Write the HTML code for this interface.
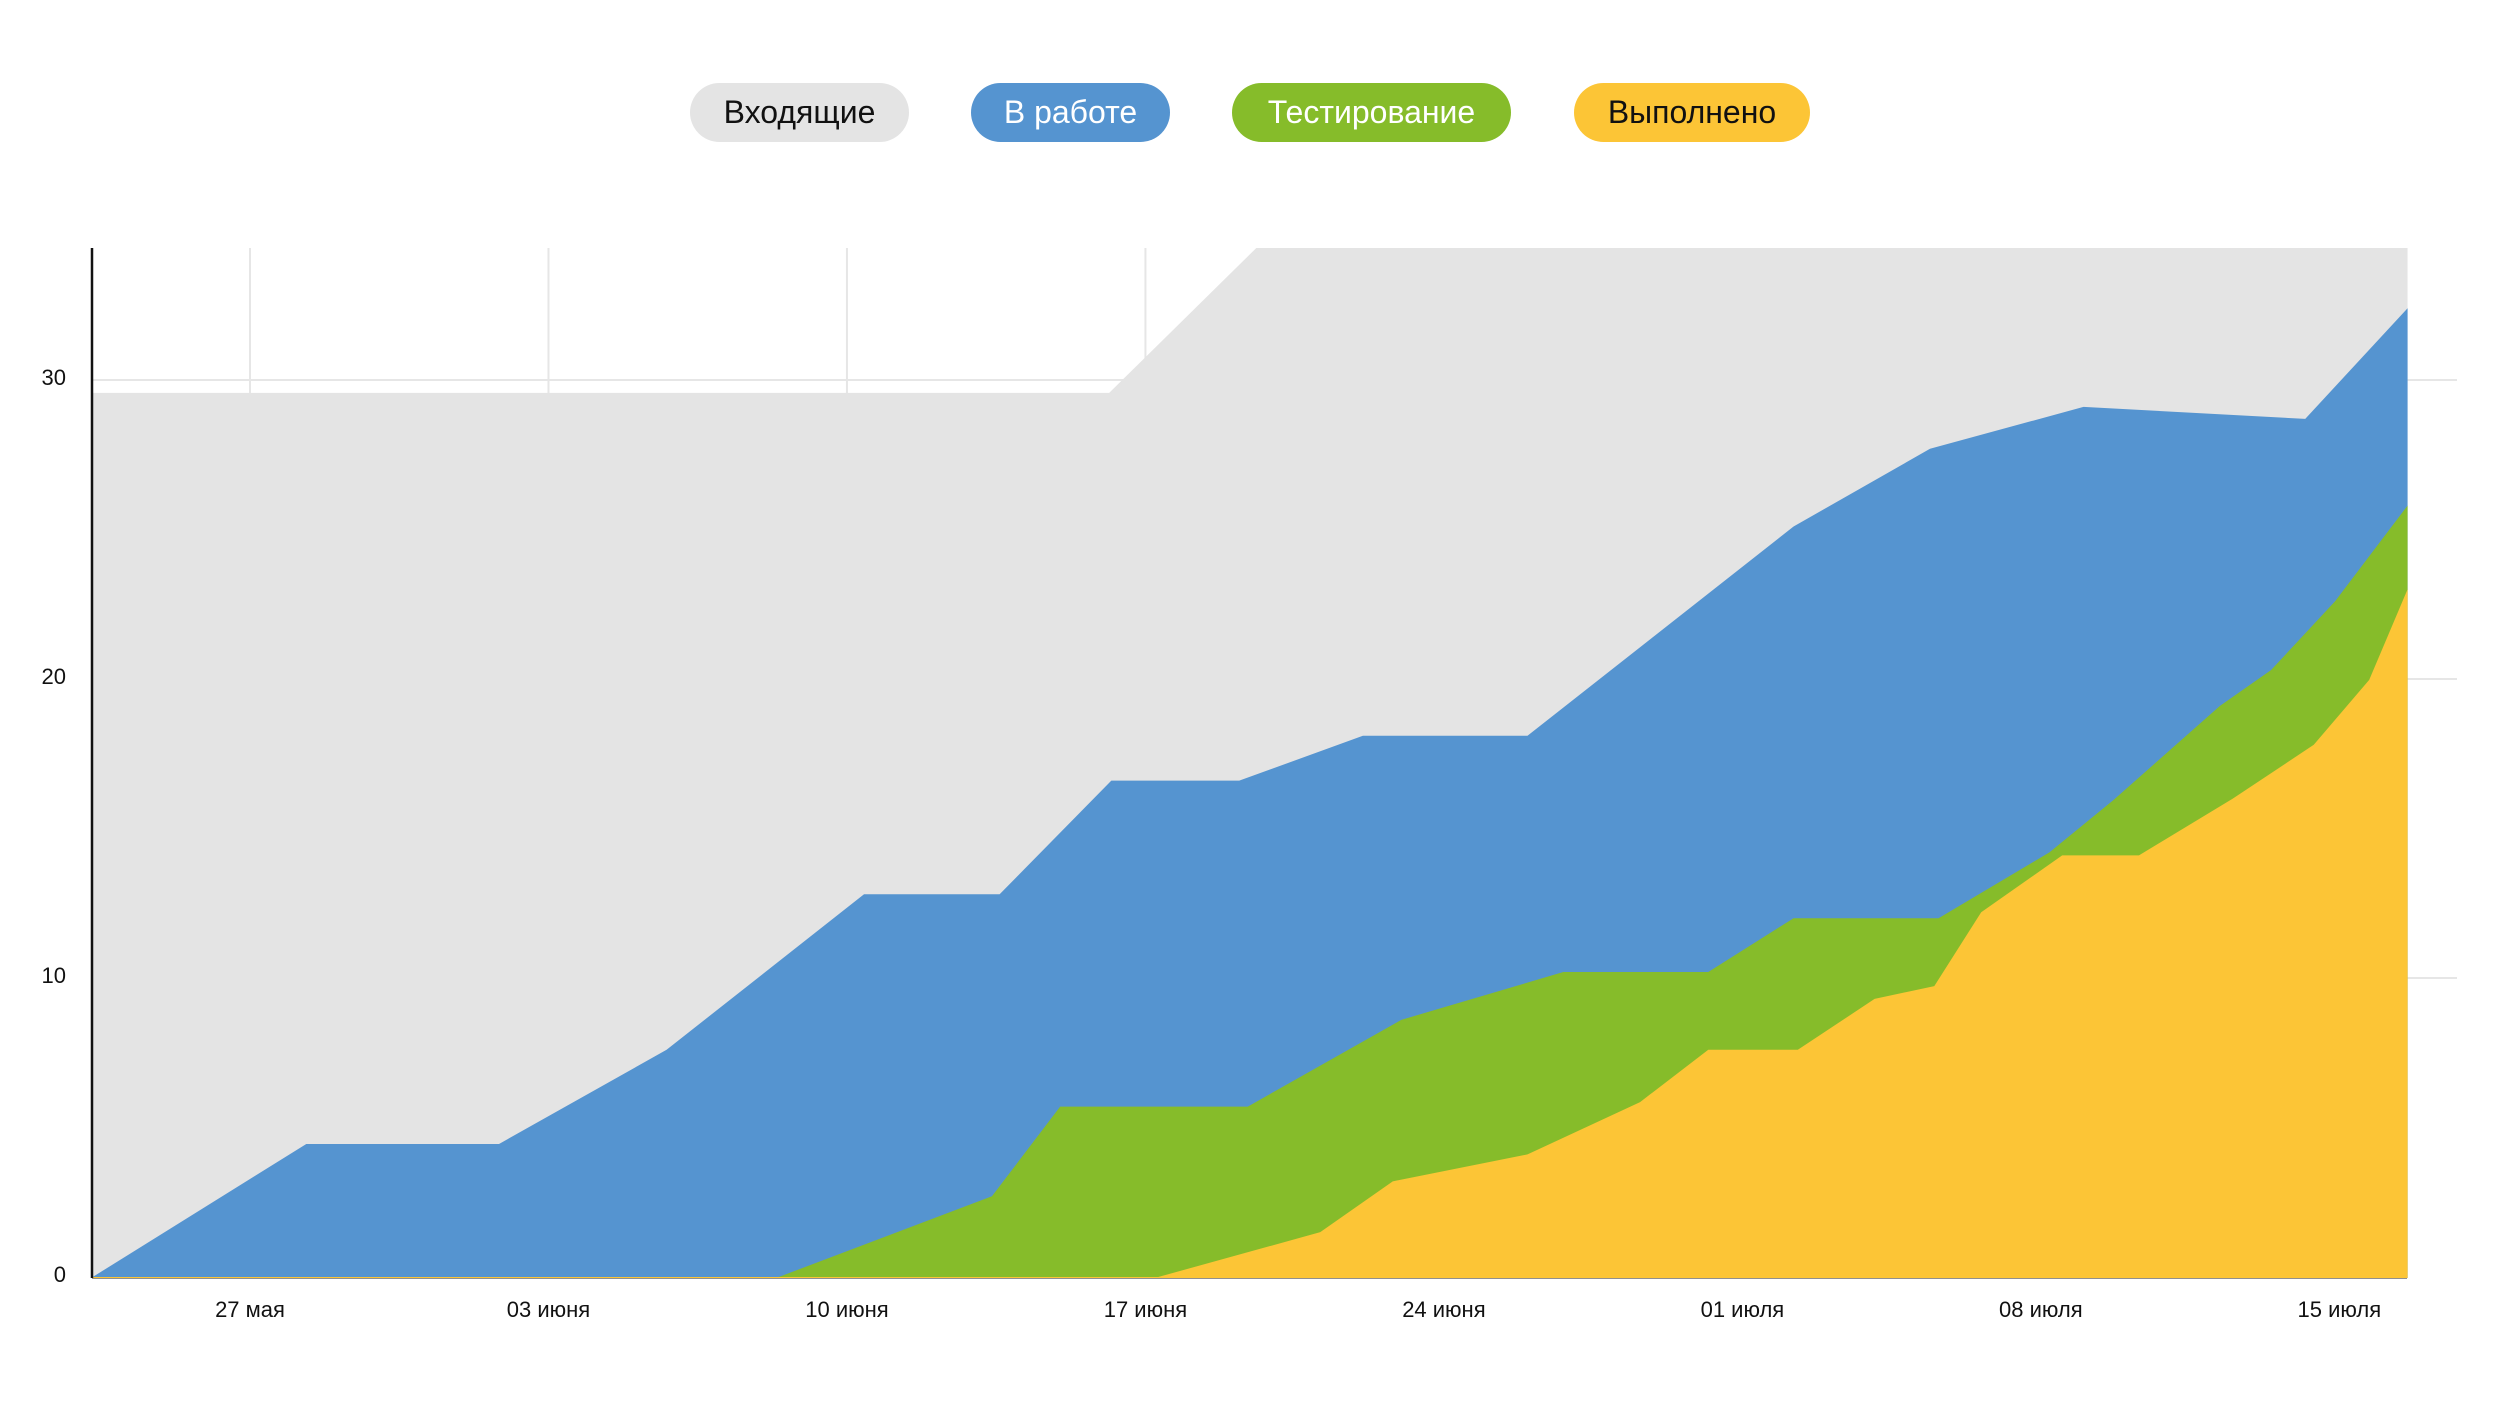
<!DOCTYPE html>
<html><head><meta charset="utf-8"><style>
html,body{margin:0;padding:0;background:#fff;width:2500px;height:1406px;overflow:hidden;font-family:"Liberation Sans","DejaVu Sans",sans-serif}
.pill{position:absolute;top:83px;height:59px;border-radius:30px;font-size:32px;line-height:59px;text-align:center;z-index:2}
#chart{position:absolute;left:0;top:0;z-index:0}
</style></head><body>
<svg id="chart" xmlns="http://www.w3.org/2000/svg" width="2500" height="1406"></svg>
<div class="pill" style="left:690px;width:219px;background:#e4e4e4;color:#111">Входящие</div>
<div class="pill" style="left:971px;width:199px;background:#5594d0;color:#fff">В работе</div>
<div class="pill" style="left:1232px;width:279px;background:#86bc2a;color:#fff">Тестирование</div>
<div class="pill" style="left:1574px;width:236px;background:#fcc536;color:#111">Выполнено</div>
<script>
const xTicks=[0,7,14,21,28,35,42,49];
const xTickLabels=["27 мая","03 июня","10 июня","17 июня","24 июня","01 июля","08 июля","15 июля"];
const yTicks=[0,10,20,30];
const incomingDays=[-3.69,20.15,23.6,50.6];
const incomingVals=[29.57,29.57,34.5,34.5];
const workDays=[-3.69,1.32,5.84,9.77,14.4,17.58,20.2,23.2,26.1,29.96,36.2,39.4,43.0,48.2,50.6];
const workVals=[0,4.45,4.45,7.6,12.8,12.8,16.6,16.6,18.1,18.1,25.1,27.7,29.1,28.7,32.4];
const testDays=[-3.69,12.4,17.4,19.0,23.4,27.0,30.8,34.2,36.2,39.6,42.2,43.7,46.2,47.4,48.9,50.6];
const testVals=[0,0,2.7,5.7,5.7,8.6,10.2,10.2,12.0,12.0,14.2,15.95,19.1,20.3,22.6,25.8];
const doneDays=[-3.69,21.3,25.1,26.8,29.96,32.6,34.2,36.3,38.1,39.5,40.6,42.5,44.3,46.5,48.4,49.7,50.6];
const doneVals=[0,0,1.5,3.2,4.1,5.85,7.6,7.6,9.3,9.73,12.2,14.1,14.1,16.0,17.8,19.97,23.0];

const NS="http://www.w3.org/2000/svg";
const svgEl=document.getElementById('chart');
const X0=92,X1=2407,Y0=1277,YT=248;
function sx(d){return 250+d*42.64;}
function sy(v){return Y0-v*29.9;}
function mk(t,a){const e=document.createElementNS(NS,t);for(const k in a)e.setAttribute(k,String(a[k]));svgEl.appendChild(e);return e;}
yTicks.forEach(function(t){
  if(t>0){const g=mk('line',{x1:X0,x2:2457,y1:sy(t),y2:sy(t),stroke:'#e6e6e6','stroke-width':2});
  
  }
  const l=mk('text',{x:66,y:sy(t)+5,'text-anchor':'end','font-size':22,fill:'#111','font-family':'Liberation Sans, sans-serif'});
  l.textContent=String(t);
  
  
});
xTicks.forEach(function(t,i){
  const g=mk('line',{x1:sx(t),x2:sx(t),y1:YT,y2:Y0,stroke:'#e6e6e6','stroke-width':2});
  
  
  const l=mk('text',{x:sx(t),y:1317,'text-anchor':'middle','font-size':22,fill:'#111','font-family':'Liberation Sans, sans-serif'});
  l.textContent=xTickLabels[i];
  
  
});
const bl=mk('line',{x1:X0,x2:X1,y1:Y0,y2:Y0,stroke:'#222','stroke-width':3});


function clampY(v){return Math.max(YT,sy(v));}
function area(days,vals,color,name){
  let d='M'+sx(days[0])+','+(Y0+1);
  days.forEach(function(dd,i){d+=' L'+sx(dd)+','+clampY(vals[i]);});
  d+=' L'+sx(days[days.length-1])+','+(Y0+1)+' Z';
  const p=mk('path',{d:d,fill:color});
  
  
}
area(incomingDays,incomingVals,'#e4e4e4','area-incoming');
area(workDays,workVals,'#5594d0','area-in-progress');
area(testDays,testVals,'#86bc2a','area-testing');
area(doneDays,doneVals,'#fcc536','area-done');
const la=mk('line',{x1:X0,x2:X0,y1:YT,y2:Y0+1,stroke:'#111','stroke-width':2.5});


</script>
</body></html>
